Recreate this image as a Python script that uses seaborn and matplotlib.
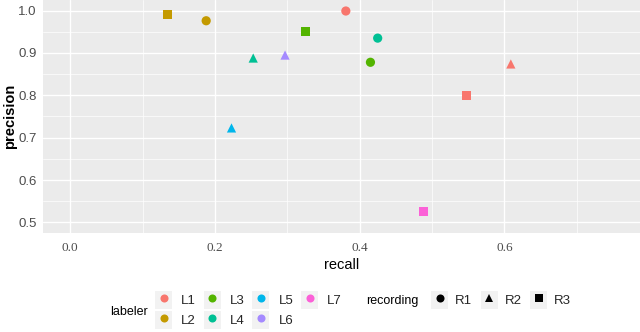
import pandas as pd
import seaborn as sns
import matplotlib.pyplot as plt
from matplotlib.lines import Line2D
from matplotlib.patches import Rectangle
from matplotlib.ticker import MultipleLocator

# values
labeler = ['L1', 'L1', 'L1', 'L2', 'L2', 'L3', 'L3', 'L4', 'L4', 'L5', 'L6', 'L7']
recording = ['R1', 'R2', 'R3', 'R1', 'R3', 'R1', 'R3', 'R1', 'R2', 'R2', 'R2', 'R3']
recall = [0.381, 0.609, 0.548, 0.188, 0.135, 0.415, 0.325, 0.425, 0.253, 0.223, 0.297, 0.488]
precision = [0.999, 0.874, 0.800, 0.976, 0.991, 0.878, 0.950, 0.935, 0.888, 0.723, 0.895, 0.526]

labelers = ['L1', 'L2', 'L3', 'L4', 'L5', 'L6', 'L7']
recordings = ['R1', 'R2', 'R3']
colors = ['#F8766D', '#C49A00', '#53B400', '#00C094', '#00B6EB', '#A58AFF', '#FB61D7']
shapes = {'R1': 'o', 'R2': '^', 'R3': 's'}

df = pd.DataFrame({'recall': recall, 'precision': precision,
                   'labeler': labeler, 'recording': recording})

sns.set_style('darkgrid', {'axes.facecolor': '#EBEBEB', 'grid.color': 'white'})
plt.rcParams['font.family'] = ['Liberation Sans', 'DejaVu Sans']

fig = plt.figure(figsize=(6.4, 3.32), dpi=100)
ax = fig.add_axes([43 / 640, 1 - 233 / 332, 1 - 43 / 640, 233 / 332])

sns.scatterplot(data=df, x='recall', y='precision', hue='labeler', style='recording',
                hue_order=labelers, style_order=recordings, palette=colors,
                markers=shapes, s=44, linewidth=0, legend=False, ax=ax, zorder=3)

ax.set_xlim(-0.0375, 0.7875)
ax.set_ylim(0.475, 1.025)
ax.xaxis.set_major_locator(MultipleLocator(0.2))
ax.xaxis.set_minor_locator(MultipleLocator(0.1))
ax.yaxis.set_major_locator(MultipleLocator(0.1))
ax.yaxis.set_minor_locator(MultipleLocator(0.05))
ax.grid(which='major', color='white', linewidth=1.0)
ax.grid(which='minor', color='white', linewidth=0.5)
ax.set_axisbelow(True)
for s in ax.spines.values():
    s.set_visible(False)

ax.tick_params(axis='both', which='major', length=2.5, width=0.6, color='#333333',
               colors='#4D4D4D', pad=2)
ax.tick_params(axis='both', which='minor', length=0)
ax.tick_params(axis='y', labelsize=9.5)
ax.tick_params(axis='x', labelsize=9.5, pad=4)
ax.set_xticks([0.0, 0.2, 0.4, 0.6])
ax.set_xticklabels(['0.0', '0.2', '0.4', '0.6'], family=['Liberation Serif', 'DejaVu Serif'])

ax.set_xlabel('recall', fontsize=10.5, color='black', labelpad=3)
ax.set_ylabel('precision', fontsize=10.5, color='black', fontweight='bold', labelpad=1)

# legends with grey key boxes
key_bg = '#F2F2F2'
lab_handles = [(Rectangle((0, 0), 1, 1, facecolor=key_bg, edgecolor='none'),
                Line2D([], [], marker='o', linestyle='none', color=c, markersize=5.8,
                       markeredgewidth=0))
               for c in colors]
fig.legend(lab_handles, labelers, loc='upper left',
           bbox_to_anchor=(155 / 640, 1 - 291 / 332), ncol=4, frameon=False,
           fontsize=9.5, handlelength=1.29, handleheight=1.72, handletextpad=0.68,
           columnspacing=0.6, labelspacing=0.15, borderpad=0, borderaxespad=0)
fig.text(110 / 640, 1 - 312 / 332, 'labeler', fontsize=9, color='black',
         ha='left', va='center')

rec_handles = [(Rectangle((0, 0), 1, 1, facecolor=key_bg, edgecolor='none'),
                Line2D([], [], marker=shapes[r], linestyle='none', color='black',
                       markersize=5.8, markeredgewidth=0))
               for r in recordings]
fig.legend(rec_handles, recordings, loc='upper left',
           bbox_to_anchor=(431 / 640, 1 - 291 / 332), ncol=3, frameon=False,
           fontsize=9.5, handlelength=1.29, handleheight=1.72, handletextpad=0.55,
           columnspacing=0.62, borderpad=0, borderaxespad=0)
fig.text(366 / 640, 1 - 301 / 332, 'recording', fontsize=9, color='black',
         ha='left', va='center')

fig.savefig('out.png', dpi=100)
